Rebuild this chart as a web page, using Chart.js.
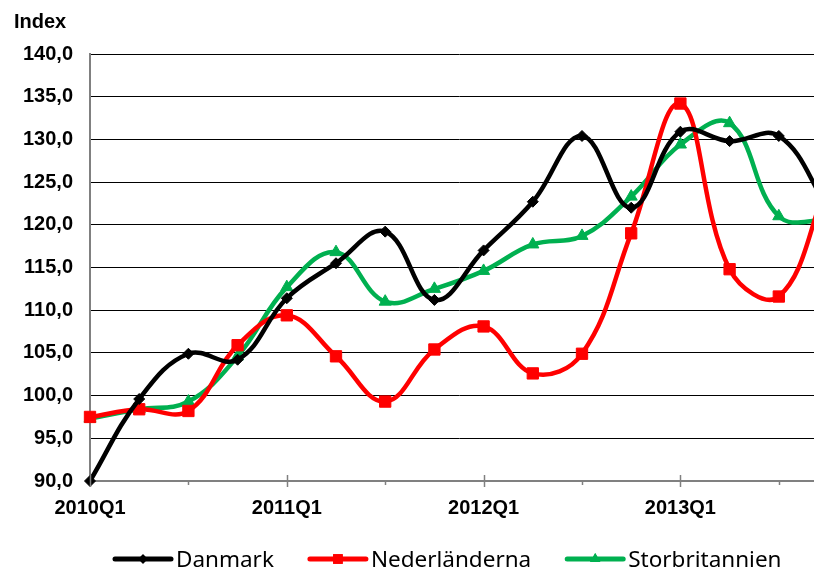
<!DOCTYPE html>
<html>
<head>
<meta charset="utf-8">
<script src="https://cdn.jsdelivr.net/npm/chart.js@4"></script>
<style>
  html, body { margin: 0; padding: 0; background: #fff; overflow: hidden; }
  #wrap { width: 904px; height: 571px; position: relative; }
</style>
</head>
<body>
<div id="wrap"><canvas id="chart"></canvas></div>
<script>
// Quarters 2010Q1 .. 2013Q4
const quarters = [
  '2010Q1', '2010Q2', '2010Q3', '2010Q4',
  '2011Q1', '2011Q2', '2011Q3', '2011Q4',
  '2012Q1', '2012Q2', '2012Q3', '2012Q4',
  '2013Q1', '2013Q2', '2013Q3', '2013Q4'
];
const danmark = [90.0, 99.6, 104.9, 104.2, 111.4, 115.5, 119.2, 111.2, 117.0, 122.7, 130.4, 122.0, 130.9, 129.8, 130.4, 122.0];
const nederlanderna = [97.5, 98.4, 98.2, 105.9, 109.4, 104.6, 99.3, 105.4, 108.1, 102.6, 104.9, 119.0, 134.2, 114.8, 111.6, 125.0];
const storbritannien = [97.3, 98.4, 99.3, 104.6, 112.7, 116.8, 111.0, 112.5, 114.6, 117.7, 118.7, 123.3, 129.4, 131.9, 121.0, 120.5];
const yTicks = [90, 95, 100, 105, 110, 115, 120, 125, 130, 135, 140];

const series = [
  { label: 'Danmark', data: danmark, color: '#000000', style: 'rectRot', r: 5.5 },
  { label: 'Nederländerna', data: nederlanderna, color: '#ff0000', style: 'rect', r: 8 },
  { label: 'Storbritannien', data: storbritannien, color: '#00b050', style: 'triangle', r: 7 }
];

const fmt = v => v.toFixed(1).replace('.', ',');

// title, tick marks and the line+marker legend
const extras = {
  id: 'extras',
  afterDraw(chart) {
    const ctx = chart.ctx;
    const x = chart.scales.x;
    const area = chart.chartArea;
    ctx.save();
    ctx.strokeStyle = '#808080';
    ctx.lineWidth = 1.5;
    quarters.forEach((q, i) => {
      if (i % 2) return;
      const px = Math.round(x.getPixelForValue(i)) + 0.5;
      ctx.beginPath();
      if (i % 4 === 0) {
        ctx.moveTo(px, area.bottom - 6);
        ctx.lineTo(px, area.bottom + 6);
      } else {
        ctx.moveTo(px, area.bottom);
        ctx.lineTo(px, area.bottom + 4);
      }
      ctx.stroke();
    });

    ctx.fillStyle = '#000';
    ctx.font = 'bold 20px "Liberation Sans", Arial, sans-serif';
    ctx.textBaseline = 'alphabetic';
    ctx.textAlign = 'left';
    ctx.fillText('Index', 14, 28);

    // legend
    ctx.font = '22.5px "Noto Sans", sans-serif';
    let lx = 115;
    const ly = 559;
    series.forEach(s => {
      ctx.strokeStyle = s.color;
      ctx.lineWidth = 5;
      ctx.lineCap = 'round';
      ctx.beginPath();
      ctx.moveTo(lx, ly);
      ctx.lineTo(lx + 56, ly);
      ctx.stroke();
      ctx.fillStyle = s.color;
      Chart.helpers.drawPoint(ctx, { pointStyle: s.style, radius: s.r * 0.85, rotation: 0, borderWidth: 0 }, lx + 28, ly);
      ctx.fill();
      ctx.fillStyle = '#000';
      ctx.fillText(s.label, lx + 61, 567);
      lx += 61 + ctx.measureText(s.label).width + 36;
    });
    ctx.restore();
  }
};

new Chart(document.getElementById('chart'), {
  type: 'line',
  data: {
    labels: quarters,
    datasets: series.map(s => ({
      label: s.label,
      data: s.data,
      borderColor: s.color,
      backgroundColor: s.color,
      borderWidth: 4.5,
      tension: 0.4,
      pointStyle: s.style,
      pointRadius: s.r,
      pointBorderWidth: 1,
      pointHoverRadius: s.r,
      clip: false
    }))
  },
  options: {
    responsive: true,
    maintainAspectRatio: false,
    animation: false,
    layout: { padding: { top: 54, right: 76, left: 0, bottom: 0 } },
    plugins: {
      legend: { display: false },
      tooltip: { enabled: false },
      title: { display: false }
    },
    scales: {
      x: {
        offset: false,
        grid: { display: false },
        border: { display: true, color: '#808080', width: 2 },
        ticks: {
          autoSkip: false,
          maxRotation: 0,
          padding: 7,
          color: '#000',
          font: { family: '"Liberation Sans", Arial, sans-serif', size: 20, weight: 'bold' },
          callback: (v, i) => (i % 4 === 0 ? quarters[i] : '')
        },
        afterFit: s => { s.height = 90; }
      },
      y: {
        min: 90,
        max: 140,
        afterBuildTicks: s => { s.ticks = yTicks.map(v => ({ value: v })); },
        grid: { color: '#000', lineWidth: 1, drawTicks: false },
        border: { display: true, color: '#808080', width: 2 },
        ticks: {
          padding: 17,
          color: '#000',
          font: { family: '"Liberation Sans", Arial, sans-serif', size: 20, weight: 'bold' },
          callback: v => fmt(v)
        },
        afterFit: s => { s.width = 90; }
      }
    }
  },
  plugins: [extras]
});
</script>
</body>
</html>
